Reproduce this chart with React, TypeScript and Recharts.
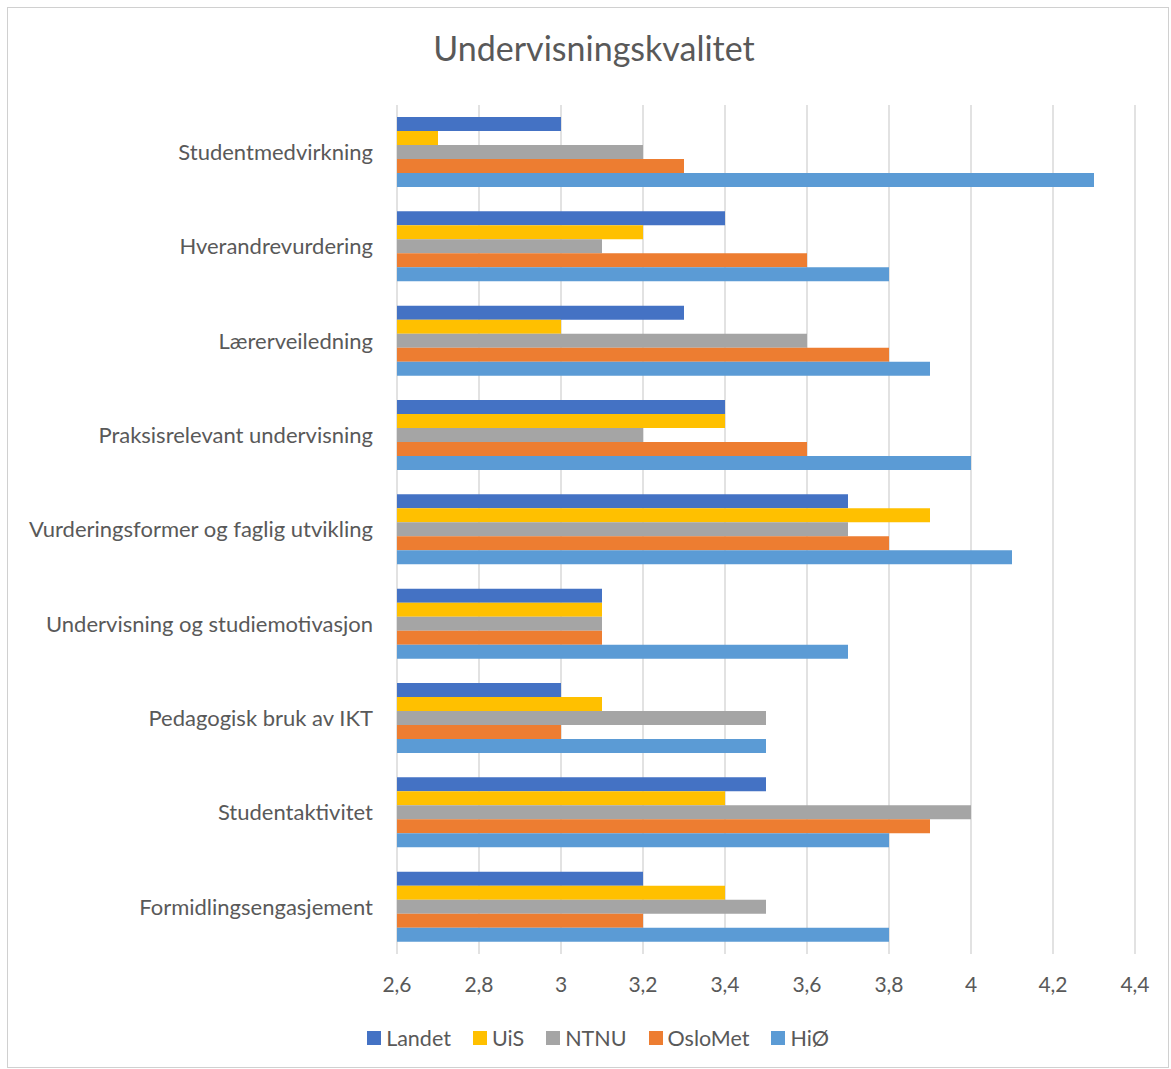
import React from 'react';
import { BarChart, Bar, XAxis, YAxis, CartesianGrid, Legend } from 'recharts';

const categories = [
  'Studentmedvirkning',
  'Hverandrevurdering',
  'Lærerveiledning',
  'Praksisrelevant undervisning',
  'Vurderingsformer og faglig utvikling',
  'Undervisning og studiemotivasjon',
  'Pedagogisk bruk av IKT',
  'Studentaktivitet',
  'Formidlingsengasjement',
];

const landet = [3.0, 3.4, 3.3, 3.4, 3.7, 3.1, 3.0, 3.5, 3.2];
const uis = [2.7, 3.2, 3.0, 3.4, 3.9, 3.1, 3.1, 3.4, 3.4];
const ntnu = [3.2, 3.1, 3.6, 3.2, 3.7, 3.1, 3.5, 4.0, 3.5];
const osloMet = [3.3, 3.6, 3.8, 3.6, 3.8, 3.1, 3.0, 3.9, 3.2];
const hio = [4.3, 3.8, 3.9, 4.0, 4.1, 3.7, 3.5, 3.8, 3.8];

const xTicks = [2.6, 2.8, 3.0, 3.2, 3.4, 3.6, 3.8, 4.0, 4.2, 4.4];

const series = [
  { key: 'Landet', values: landet, color: '#4472C4' },
  { key: 'UiS', values: uis, color: '#FFC000' },
  { key: 'NTNU', values: ntnu, color: '#A5A5A5' },
  { key: 'OsloMet', values: osloMet, color: '#ED7D31' },
  { key: 'HiØ', values: hio, color: '#5B9BD5' },
];

const data = categories.map((name, i) => {
  const row: Record<string, string | number> = { name };
  series.forEach(s => { row[s.key] = s.values[i]; });
  return row;
});

const font = 'Lato, "Noto Sans", sans-serif';
const textColor = '#595959';

const fmt = (v: number) => String(Math.round(v * 10) / 10).replace('.', ',');

const LegendContent = () => (
  <div style={{ display: 'flex', justifyContent: 'center', gap: 22, fontSize: 21.5, color: textColor, fontFamily: font }}>
    {series.map(s => (
      <div key={s.key} style={{ display: 'flex', alignItems: 'center', gap: 5 }}>
        <span style={{ width: 14, height: 14, background: s.color, display: 'inline-block' }} />
        <span>{s.key}</span>
      </div>
    ))}
  </div>
);

export default function App() {
  return (
    <div style={{ position: 'absolute', top: 7, left: 7, width: 1160, height: 1059, border: '1px solid #d0d0d0', background: '#fff', fontFamily: font }}>
      <div style={{ position: 'absolute', top: 19, left: 0, width: 1172, textAlign: 'center', fontSize: 34, color: textColor }}>
        Undervisningskvalitet
      </div>
      <BarChart
        width={1160}
        height={1059}
        data={data}
        layout="vertical"
        margin={{ top: 97, right: 33, left: 0, bottom: 37 }}
        barGap={0}
        barSize={14}
      >
        <CartesianGrid horizontal={false} stroke="#d9d9d9" strokeWidth={1.5} />
        <XAxis
          type="number"
          domain={[2.6, 4.4]}
          ticks={xTicks}
          tickFormatter={fmt}
          axisLine={false}
          tickLine={false}
          tickMargin={17}
          height={50}
          tick={{ fontSize: 21, fill: textColor, fontFamily: font }}
        />
        <YAxis
          type="category"
          dataKey="name"
          width={389}
          axisLine={false}
          tickLine={false}
          tickMargin={18}
          tick={{ fontSize: 22, fill: textColor, fontFamily: font }}
        />
        <Legend
          verticalAlign="bottom"
          content={LegendContent}
          wrapperStyle={{ bottom: 16, left: 0, width: 1180 }}
        />
        {series.map(s => (
          <Bar key={s.key} dataKey={s.key} fill={s.color} isAnimationActive={false} />
        ))}
      </BarChart>
    </div>
  );
}
